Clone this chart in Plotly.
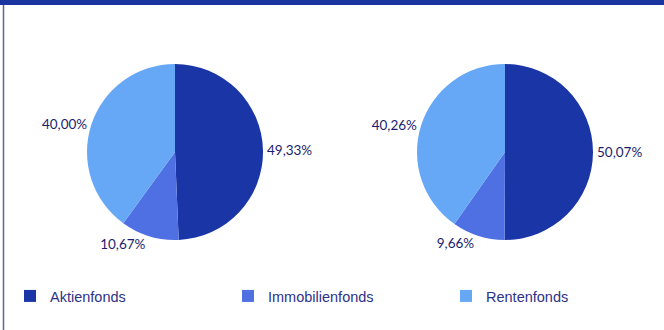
import plotly.graph_objects as go

categories = ["Aktienfonds", "Immobilienfonds", "Rentenfonds"]
values_left = [49.33, 10.67, 40.00]
values_right = [50.07, 9.66, 40.26]
colors = ["#1a35a6", "#4f70e2", "#66a8f6"]

W, H = 664, 330

def dom(cx, cy, r):
    return dict(x=[(cx - r) / W, (cx + r) / W], y=[(H - cy - r) / H, (H - cy + r) / H])

fig = go.Figure()
for i, (vals, cx) in enumerate([(values_left, 175), (values_right, 505)]):
    fig.add_trace(go.Pie(
        labels=categories, values=vals, sort=False, direction="clockwise", rotation=0,
        marker=dict(colors=colors, line=dict(width=0)),
        textposition="outside", texttemplate="%{value:.2f}%",
        textfont=dict(family="Lato", size=13.5, color="#1c1c6e"),
        domain=dom(cx, 152, 88), showlegend=(i == 0), hoverinfo="skip",
    ))

fig.update_layout(
    width=W, height=H, margin=dict(l=0, r=0, t=0, b=0),
    paper_bgcolor="white", plot_bgcolor="white", separators=",.",
    legend=dict(orientation="h", x=20 / W, xanchor="left", y=(H - 296) / H, yanchor="middle",
                entrywidth=173, entrywidthmode="pixels", traceorder="normal",
                font=dict(family="Liberation Sans", size=14.5, color="#2d3288"),
                itemwidth=30, bgcolor="rgba(0,0,0,0)"),
    shapes=[
        dict(type="rect", xref="paper", yref="paper", x0=0, x1=1, y0=1 - 5 / H, y1=1,
             fillcolor="#1a35a0", line=dict(width=0), layer="above"),
        dict(type="line", xref="paper", yref="paper", x0=3.5 / W, x1=3.5 / W, y0=0, y1=1 - 5 / H,
             line=dict(color="#5a6a9a", width=1.5)),
    ],
)
fig.write_html("out.html")
